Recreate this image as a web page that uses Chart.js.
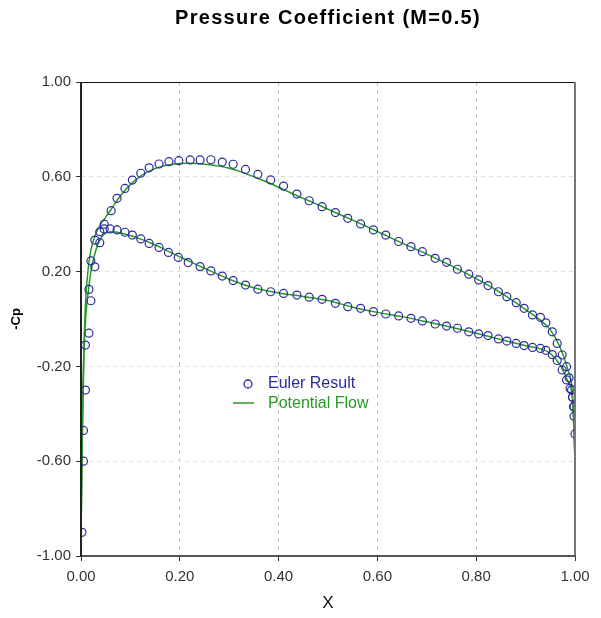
<!DOCTYPE html>
<html>
<head>
<meta charset="utf-8">
<script src="https://cdn.jsdelivr.net/npm/chart.js@4.4.1/dist/chart.umd.min.js"></script>
<style>
  html, body { margin: 0; padding: 0; background: #ffffff; }
  #wrap { width: 601px; height: 618px; position: relative; }
</style>
</head>
<body>
<div id="wrap"><canvas id="chart"></canvas></div>
<script>
// Euler result, upper surface (x, -Cp)
const eulerUpperX = [0.002, 0.005, 0.009, 0.016, 0.016, 0.020, 0.028, 0.038, 0.047, 0.061, 0.073, 0.089, 0.104, 0.121, 0.138, 0.158, 0.178, 0.198, 0.221, 0.241, 0.263, 0.286, 0.308, 0.333, 0.358, 0.384, 0.410, 0.437, 0.462, 0.488, 0.515, 0.540, 0.566, 0.592, 0.617, 0.643, 0.668, 0.691, 0.717, 0.740, 0.762, 0.785, 0.805, 0.824, 0.845, 0.862, 0.881, 0.897, 0.914, 0.930, 0.941, 0.954, 0.964, 0.974, 0.983, 0.988, 0.993, 0.995, 0.997, 0.998, 1.000];
const eulerUpperCp = [-0.90, -0.60, -0.30, -0.06, 0.125, 0.245, 0.333, 0.368, 0.400, 0.457, 0.509, 0.551, 0.586, 0.615, 0.638, 0.654, 0.664, 0.668, 0.671, 0.671, 0.672, 0.662, 0.653, 0.631, 0.610, 0.587, 0.561, 0.527, 0.499, 0.474, 0.449, 0.425, 0.401, 0.376, 0.354, 0.327, 0.305, 0.284, 0.256, 0.239, 0.210, 0.189, 0.165, 0.141, 0.115, 0.094, 0.069, 0.045, 0.017, 0.007, -0.016, -0.054, -0.103, -0.152, -0.201, -0.248, -0.300, -0.330, -0.370, -0.410, -0.485];

// Euler result, lower surface
const eulerLowerX = [0.005, 0.009, 0.020, 0.028, 0.038, 0.047, 0.059, 0.073, 0.089, 0.104, 0.121, 0.138, 0.158, 0.177, 0.197, 0.217, 0.241, 0.263, 0.286, 0.308, 0.333, 0.358, 0.384, 0.410, 0.437, 0.462, 0.488, 0.515, 0.540, 0.566, 0.592, 0.617, 0.643, 0.668, 0.691, 0.717, 0.740, 0.762, 0.785, 0.805, 0.824, 0.845, 0.862, 0.881, 0.897, 0.914, 0.930, 0.941, 0.954, 0.964, 0.974, 0.983, 0.990, 0.995, 0.998];
const eulerLowerCp = [-0.47, -0.11, 0.077, 0.220, 0.322, 0.380, 0.380, 0.376, 0.366, 0.354, 0.338, 0.319, 0.302, 0.281, 0.260, 0.238, 0.221, 0.203, 0.181, 0.162, 0.143, 0.126, 0.115, 0.108, 0.101, 0.092, 0.083, 0.066, 0.052, 0.045, 0.031, 0.021, 0.013, 0.003, -0.008, -0.021, -0.030, -0.039, -0.054, -0.063, -0.070, -0.084, -0.093, -0.103, -0.112, -0.120, -0.124, -0.132, -0.150, -0.175, -0.215, -0.257, -0.293, -0.330, -0.370];

// Potential flow, upper surface
const potUpperX = [0.000, 0.002, 0.004, 0.007, 0.010, 0.015, 0.020, 0.030, 0.040, 0.050, 0.060, 0.080, 0.100, 0.120, 0.140, 0.160, 0.180, 0.200, 0.220, 0.240, 0.260, 0.280, 0.300, 0.320, 0.340, 0.360, 0.380, 0.400, 0.420, 0.440, 0.460, 0.480, 0.500, 0.550, 0.600, 0.650, 0.700, 0.750, 0.800, 0.850, 0.900, 0.930, 0.950, 0.970, 0.985, 0.995, 1.000];
const potUpperCp = [-0.92, -0.60, -0.30, -0.05, 0.10, 0.22, 0.29, 0.36, 0.40, 0.43, 0.46, 0.52, 0.567, 0.602, 0.626, 0.642, 0.651, 0.656, 0.657, 0.655, 0.651, 0.645, 0.636, 0.624, 0.608, 0.592, 0.575, 0.556, 0.537, 0.518, 0.500, 0.482, 0.463, 0.417, 0.369, 0.320, 0.274, 0.224, 0.170, 0.110, 0.040, -0.005, -0.045, -0.120, -0.210, -0.320, -0.600];

// Potential flow, lower surface
const potLowerX = [0.000, 0.003, 0.006, 0.010, 0.015, 0.020, 0.030, 0.040, 0.050, 0.060, 0.070, 0.080, 0.100, 0.120, 0.140, 0.160, 0.180, 0.200, 0.220, 0.250, 0.300, 0.350, 0.400, 0.450, 0.500, 0.550, 0.600, 0.650, 0.700, 0.750, 0.800, 0.850, 0.900, 0.930, 0.950, 0.970, 0.985, 0.995, 1.000];
const potLowerCp = [-0.92, -0.45, -0.15, 0.02, 0.12, 0.20, 0.29, 0.34, 0.362, 0.368, 0.367, 0.363, 0.352, 0.338, 0.322, 0.303, 0.282, 0.262, 0.243, 0.214, 0.168, 0.132, 0.110, 0.095, 0.078, 0.050, 0.028, 0.010, -0.012, -0.035, -0.060, -0.087, -0.113, -0.126, -0.145, -0.195, -0.260, -0.340, -0.600];

const xTicks = [0, 0.2, 0.4, 0.6, 0.8, 1.0];
const yTicks = [-1.0, -0.6, -0.2, 0.2, 0.6, 1.0];
const seriesNames = ["Euler Result", "Potential Flow"];
const chartTitle = "Pressure Coefficient (M=0.5)";

const eulerColor = "#2b2b9c";
const potColor = "#259a25";
const fontFamily = "'Liberation Sans', Arial, sans-serif";

const toPoints = (xs, ys) => xs.map((x, i) => ({ x, y: ys[i] }));

function line(ctx, x1, y1, x2, y2, color, width) {
  ctx.strokeStyle = color;
  ctx.lineWidth = width;
  ctx.beginPath();
  ctx.moveTo(x1, y1);
  ctx.lineTo(x2, y2);
  ctx.stroke();
}

const frameAndLegend = {
  id: "frameAndLegend",
  afterDraw(chart) {
    const { ctx, chartArea: a } = chart;
    ctx.save();
    // plot frame
    line(ctx, a.left, a.top + 0.5, a.right, a.top + 0.5, "#111", 1);
    line(ctx, a.right, a.top, a.right, a.bottom, "#777", 2);
    line(ctx, a.left - 1, a.bottom, a.right + 1, a.bottom, "#555", 2);
    line(ctx, a.left, a.top, a.left, a.bottom + 1, "#222", 2);

    // title, centred over the plot area
    ctx.font = "bold 20px " + fontFamily;
    ctx.letterSpacing = "1.3px";
    ctx.fillStyle = "#000";
    ctx.textAlign = "center";
    ctx.textBaseline = "middle";
    ctx.fillText(chartTitle, (a.left + a.right) / 2, 18);
    ctx.letterSpacing = "0px";

    // legend inside the plot
    const lx = a.left + 167;
    const ly = a.top + 302;
    ctx.textAlign = "left";
    ctx.font = "16px " + fontFamily;
    ctx.strokeStyle = eulerColor;
    ctx.lineWidth = 1.3;
    ctx.beginPath();
    ctx.arc(lx, ly, 4, 0, Math.PI * 2);
    ctx.stroke();
    ctx.fillStyle = eulerColor;
    ctx.fillText(seriesNames[0], lx + 20, ly);
    line(ctx, lx - 15, ly + 19, lx + 6, ly + 19, potColor, 1.5);
    ctx.fillStyle = potColor;
    ctx.fillText(seriesNames[1], lx + 20, ly + 20);
    ctx.restore();
  },
};

const gridColor = (base) => (c) =>
  c.tick && (Math.abs(c.tick.value) > 0.999 || Math.abs(c.tick.value) < 0.001) ? "rgba(0,0,0,0)" : base;

new Chart(document.getElementById("chart"), {
  type: "scatter",
  data: {
    datasets: [
      {
        label: seriesNames[0],
        data: toPoints(eulerUpperX, eulerUpperCp).concat(toPoints(eulerLowerX, eulerLowerCp)),
        showLine: false,
        pointStyle: "circle",
        pointRadius: 4,
        pointBorderWidth: 1.2,
        pointBorderColor: eulerColor,
        pointBackgroundColor: "rgba(0,0,0,0)",
      },
      {
        label: seriesNames[1],
        data: toPoints(potUpperX, potUpperCp),
        showLine: true,
        pointRadius: 0,
        borderColor: potColor,
        borderWidth: 1.5,
        cubicInterpolationMode: "monotone",
      },
      {
        label: seriesNames[1] + " (lower)",
        data: toPoints(potLowerX, potLowerCp),
        showLine: true,
        pointRadius: 0,
        borderColor: potColor,
        borderWidth: 1.5,
        cubicInterpolationMode: "monotone",
      },
    ],
  },
  options: {
    responsive: true,
    maintainAspectRatio: false,
    animation: false,
    layout: { padding: { left: 0, right: 26, top: 82, bottom: 0 } },
    plugins: {
      legend: { display: false },
      tooltip: { enabled: false },
      title: { display: false },
    },
    scales: {
      x: {
        type: "linear",
        min: 0,
        max: 1,
        afterBuildTicks: (s) => { s.ticks = xTicks.map((v) => ({ value: v })); },
        afterFit: (s) => { s.height = 62; },
        ticks: {
          color: "#333",
          padding: 7,
          font: { family: fontFamily, size: 15 },
          callback: (v) => Number(v).toFixed(2),
        },
        grid: {
          color: gridColor("#c4c4c4"),
          tickColor: "#333",
          tickLength: 5,
          tickBorderDash: [],
        },
        border: { display: false, dash: [4, 4] },
        title: {
          display: true,
          text: "X",
          color: "#111",
          font: { family: fontFamily, size: 17 },
          padding: { top: 0, bottom: 4 },
        },
      },
      y: {
        type: "linear",
        min: -1,
        max: 1,
        afterBuildTicks: (s) => { s.ticks = yTicks.map((v) => ({ value: v })); },
        afterFit: (s) => { s.width = 81; },
        ticks: {
          color: "#333",
          padding: 5,
          font: { family: fontFamily, size: 15 },
          callback: (v) => Number(v).toFixed(2),
        },
        grid: {
          color: gridColor("#e2e2cc"),
          tickColor: "#333",
          tickLength: 5,
          tickBorderDash: [],
        },
        border: { display: false, dash: [4, 4] },
        title: {
          display: true,
          text: "-Cp",
          color: "#000",
          font: { family: fontFamily, size: 13, weight: "bold" },
          padding: { top: 9, bottom: 0 },
        },
      },
    },
  },
  plugins: [frameAndLegend],
});
</script>
</body>
</html>
